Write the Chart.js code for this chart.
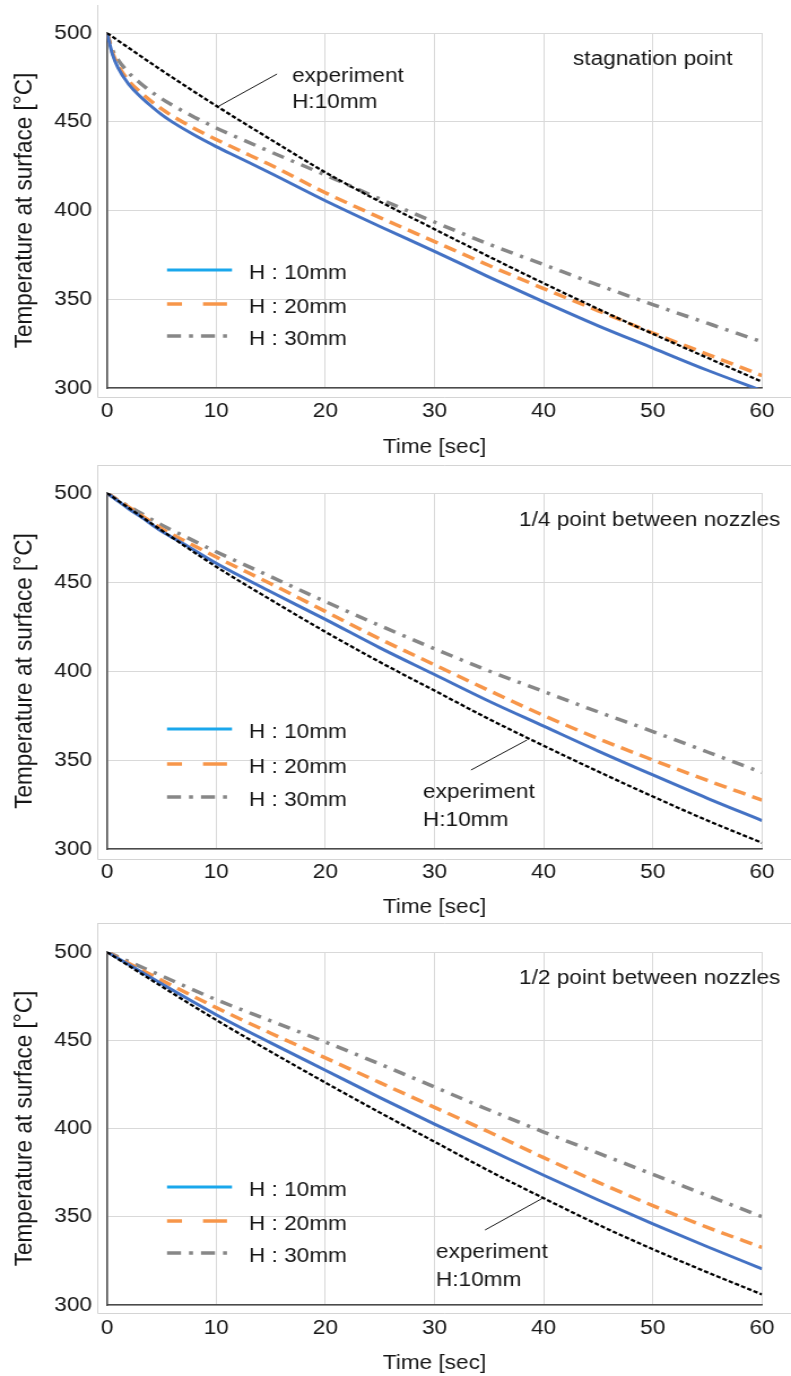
<!DOCTYPE html>
<html>
<head>
<meta charset="utf-8">
<title>Surface temperature vs time</title>
<script src="https://cdn.jsdelivr.net/npm/chart.js@4.4.1/dist/chart.umd.min.js"></script>
<style>
  html, body { margin: 0; padding: 0; background: #ffffff; }
  body { width: 791px; height: 1376px; position: relative; overflow: hidden; }
  canvas { position: absolute; left: 0; }
</style>
</head>
<body>
<canvas id="panelStag" width="700" height="460" style="top:0px;width:791px;height:460px"></canvas>
<canvas id="panelQuarter" width="700" height="460" style="top:460px;width:791px;height:460px"></canvas>
<canvas id="panelHalf" width="700" height="456" style="top:920px;width:791px;height:456px"></canvas>
<script>
// ---- data (time in s, temperature in °C) ----
const seriesLabels = ['H : 10mm', 'H : 20mm', 'H : 30mm', 'experiment H:10mm'];
const timeTicks = [0, 10, 20, 30, 40, 50, 60];
const tempTicks = [300, 350, 400, 450, 500];

// stagnation point
const stagTime = [0, 0.5, 1, 2, 3, 4, 5, 6, 8, 10, 12, 15, 20, 25, 30, 35, 40, 45, 50, 55, 60];
const stagH10 = [500, 488, 480.5, 471, 464.5, 459, 454, 449.8, 442.5, 436, 430, 421, 405.5, 391, 377, 362.5, 348.5, 335, 322.5, 310, 298.5];
const stagH20 = [500, 489, 482, 473, 467, 461.8, 457.2, 453.2, 446.2, 440, 434.2, 425.6, 410, 396, 382.5, 369, 356, 343.5, 331, 319, 307];
const stagH30 = [500, 490.5, 485, 477.5, 472, 467.2, 463, 459.3, 452.6, 446.5, 441, 433, 420, 406.5, 393.5, 381, 369.5, 358, 347, 336.5, 326];
const expTime = [0, 5, 10, 15, 20, 25, 30, 35, 40, 45, 50, 55, 60];
const stagExp = [500, 479, 459, 440, 421.5, 405, 389.5, 374, 359, 344.5, 330.5, 317, 303.5];

// 1/4 point between nozzles
const quarterTime = [0, 1, 2, 3, 5, 7, 10, 15, 20, 25, 30, 35, 40, 45, 50, 55, 60];
const quarterH10 = [500, 495.5, 491, 487, 478.5, 471.5, 460.5, 444.5, 429, 413, 398, 383, 369, 355, 341.6, 328.5, 316];
const quarterH20 = [500, 496, 492, 488, 480, 473.5, 464, 449, 433.5, 418, 403.5, 389, 375, 362, 350, 338.5, 327.5];
const quarterH30 = [500, 496, 492.5, 489, 482, 476, 467, 453, 439, 425.5, 412.5, 400, 388.5, 377, 366, 354.5, 343];
const quarterExp = [500, 479, 458.6, 440, 422, 405, 389, 373, 358, 343.5, 329.5, 316, 303.5];

// 1/2 point between nozzles
const halfTime = [0, 5, 10, 15, 20, 25, 30, 35, 40, 45, 50, 55, 60];
const halfH10 = [500, 482, 464.5, 448.5, 433, 417.5, 402.5, 388, 373.5, 359.5, 346, 333, 320.5];
const halfH20 = [500, 484, 468.5, 454, 440, 426, 412, 398, 383.5, 369.5, 356.3, 344, 332.6];
const halfH30 = [500, 486.5, 473, 461, 449, 436.5, 423.5, 410.5, 398, 386, 374, 362, 350];
const halfExp = [500, 480.5, 461.5, 443.5, 426, 409, 392.5, 376, 360.5, 345.5, 331.6, 318.5, 306];

// ---- styling ----
const SX = 791 / 700;            // canvas buffer is widened by CSS
const px = v => v / SX;          // page x -> canvas x
const TXT = '#161616';
const GRID = '#d9d9d9';
const AXIS = '#4a4a4a';
const FRAME = '#d4d4d4';
const BLUE = '#4472c4';
const BLUE_KEY = '#1aa7ec';
const ORANGE = '#f7964a';
const GRAY = '#878787';

Chart.defaults.font.family = "'Liberation Sans', Arial, Helvetica, sans-serif";
Chart.defaults.font.size = 20;
Chart.defaults.color = TXT;

const seriesStyle = [
  { color: BLUE,   key: BLUE_KEY, width: 3,   dash: [],                keyDash: [] },
  { color: ORANGE, key: ORANGE,   width: 3.5, dash: [11.5, 6.5],       keyDash: [px(15), px(21), px(24), 200] },
  { color: GRAY,   key: GRAY,     width: 3.5, dash: [11, 7, 3, 7],     keyDash: [px(14), px(8), px(4), px(8)] },
  { color: '#000000', key: '#000000', width: 2.3, dash: [4, 2],        keyDash: [] }
];

function points(xs, ys) {
  return xs.map((x, i) => ({ x: x, y: ys[i] }));
}

// frame, key, heading and annotation drawn on each panel
const panelDecor = {
  id: 'panelDecor',
  beforeDraw(chart, args, o) {
    const ctx = chart.ctx;
    ctx.save();
    ctx.strokeStyle = FRAME;
    ctx.lineWidth = 1;
    ctx.beginPath();
    const fx = Math.round(px(97)) + 0.5;
    ctx.moveTo(fx, o.frameTop);
    ctx.lineTo(fx, o.frameBottom + 0.5);
    ctx.lineTo(chart.width, o.frameBottom + 0.5);
    if (o.frameTopLine) {
      ctx.moveTo(fx, o.frameTop + 0.5);
      ctx.lineTo(chart.width, o.frameTop + 0.5);
    }
    ctx.stroke();
    ctx.restore();
  },
  afterDatasetsDraw(chart, args, o) {
    const ctx = chart.ctx;
    ctx.save();
    ctx.font = "20px 'Liberation Sans', Arial, sans-serif";
    ctx.fillStyle = TXT;
    ctx.textBaseline = 'alphabetic';
    ctx.textAlign = 'left';

    // series key
    for (let i = 0; i < 3; i++) {
      const st = seriesStyle[i];
      const y = o.keyRows[i];
      ctx.save();
      ctx.strokeStyle = st.key;
      ctx.lineWidth = st.width;
      ctx.setLineDash(st.keyDash);
      ctx.beginPath();
      ctx.moveTo(px(167), y);
      ctx.lineTo(px(232), y);
      ctx.stroke();
      ctx.restore();
      ctx.fillText(chart.data.datasets[i].label, px(249), y + 8.5);
    }

    // heading
    ctx.fillText(o.heading, px(o.headingX), o.headingY);

    // experiment annotation with leader line
    const a = o.note;
    ctx.fillText('experiment', px(a.x), a.y1);
    ctx.fillText('H:10mm', px(a.x), a.y2);
    ctx.strokeStyle = '#1a1a1a';
    ctx.lineWidth = 1;
    ctx.setLineDash([]);
    ctx.beginPath();
    ctx.moveTo(px(a.lx1), a.ly1);
    ctx.lineTo(px(a.lx2), a.ly2);
    ctx.stroke();
    ctx.restore();
  }
};

function buildPanel(id, cfg) {
  const canvas = document.getElementById(id);
  const H = canvas.height;
  const sets = [
    points(cfg.simTime, cfg.h10),
    points(cfg.simTime, cfg.h20),
    points(cfg.simTime, cfg.h30),
    points(cfg.expTime, cfg.exp)
  ];
  const datasets = sets.map((d, i) => ({
    label: seriesLabels[i],
    data: d,
    borderColor: seriesStyle[i].color,
    backgroundColor: seriesStyle[i].color,
    borderWidth: seriesStyle[i].width,
    borderDash: seriesStyle[i].dash,
    pointRadius: 0,
    fill: false,
    cubicInterpolationMode: 'monotone',
    order: i === 3 ? 0 : i + 1
  }));

  return new Chart(canvas, {
    type: 'line',
    data: { datasets: datasets },
    options: {
      responsive: false,
      animation: false,
      devicePixelRatio: 1,
      events: [],
      layout: { padding: { top: cfg.plotTop, right: px(791 - 762), left: 0, bottom: 0 } },
      plugins: {
        legend: { display: false },
        tooltip: { enabled: false },
        panelDecor: cfg.decor
      },
      scales: {
        x: {
          type: 'linear',
          min: timeTicks[0],
          max: timeTicks[timeTicks.length - 1],
          afterBuildTicks(s) { s.ticks = timeTicks.map(v => ({ value: v })); },
          ticks: { padding: 11.5, color: TXT, font: { size: 20 }, maxRotation: 0, autoSkip: false },
          grid: { color: GRID, lineWidth: 1, drawTicks: false },
          border: { color: AXIS, width: 1.6 },
          title: { display: true, text: 'Time [sec]', color: TXT, font: { size: 20 }, padding: { top: 0, bottom: 1 } },
          afterFit(s) { s.height = H - cfg.plotBottom; }
        },
        y: {
          min: tempTicks[0],
          max: tempTicks[tempTicks.length - 1],
          afterBuildTicks(s) { s.ticks = tempTicks.map(v => ({ value: v })); },
          ticks: { padding: px(15), color: TXT, font: { size: 20 } },
          grid: { color: GRID, lineWidth: 1, drawTicks: false },
          border: { color: AXIS, width: 1.6 },
          title: { display: true, text: 'Temperature at surface [°C]', color: TXT, font: { size: 22.5 }, padding: { top: 8.5, bottom: 0 } },
          afterFit(s) { s.width = px(107); }
        }
      }
    },
    plugins: [panelDecor]
  });
}

buildPanel('panelStag', {
  simTime: stagTime, h10: stagH10, h20: stagH20, h30: stagH30,
  expTime: expTime, exp: stagExp,
  plotTop: 33, plotBottom: 388,
  decor: {
    frameTop: 5, frameBottom: 397, frameTopLine: false,
    keyRows: [270, 304, 336],
    heading: 'stagnation point', headingX: 573, headingY: 65,
    note: { x: 292, y1: 82, y2: 108, lx1: 277, ly1: 74, lx2: 219, ly2: 106 }
  }
});

buildPanel('panelQuarter', {
  simTime: quarterTime, h10: quarterH10, h20: quarterH20, h30: quarterH30,
  expTime: expTime, exp: quarterExp,
  plotTop: 33, plotBottom: 389,
  decor: {
    frameTop: 5, frameBottom: 399, frameTopLine: true,
    keyRows: [269, 304, 337],
    heading: '1/4 point between nozzles', headingX: 519, headingY: 66,
    note: { x: 423, y1: 338, y2: 366, lx1: 527, ly1: 280, lx2: 471, ly2: 310 }
  }
});

buildPanel('panelHalf', {
  simTime: halfTime, h10: halfH10, h20: halfH20, h30: halfH30,
  expTime: expTime, exp: halfExp,
  plotTop: 32, plotBottom: 385,
  decor: {
    frameTop: 3, frameBottom: 393, frameTopLine: true,
    keyRows: [267, 301, 333],
    heading: '1/2 point between nozzles', headingX: 519, headingY: 64,
    note: { x: 436, y1: 338, y2: 366, lx1: 543, ly1: 278, lx2: 485, ly2: 310 }
  }
});
</script>
</body>
</html>
